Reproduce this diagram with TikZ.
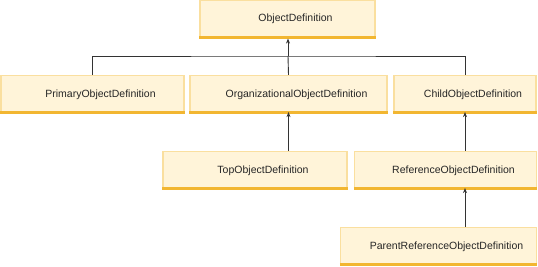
\documentclass[tikz,border=0pt]{standalone}
\usepackage{fontspec}
\setmainfont{Liberation Sans}
\usetikzlibrary{arrows.meta}
\definecolor{boxfill}{HTML}{FFF4D9}
\definecolor{boxedge}{HTML}{FADF9F}
\definecolor{boxbottom}{HTML}{F2B631}
\definecolor{linecol}{HTML}{333333}
\tikzset{
  defbox/.style={rectangle, fill=boxfill, draw=boxedge, line width=1.2pt,
    minimum height=38pt, inner sep=0pt, font=\fontsize{10.5}{12}\selectfont,
    text=black!85, execute at begin node={\hspace*{16pt}}},
  bottomedge/.style={draw=boxbottom, line width=2.8pt},
  conn/.style={draw=linecol, line width=0.9pt},
  arr/.style={conn, -{Stealth[length=5pt,width=4pt]}}
}
\begin{document}
\begin{tikzpicture}[x=1pt,y=-1pt]
\useasboundingbox (0,0) rectangle (538,267);
\node[defbox, minimum width=175pt] (obj) at (287.5,19) {ObjectDefinition};
\node[defbox, minimum width=183pt] (prim) at (92.5,94.5) {PrimaryObjectDefinition};
\node[defbox, minimum width=197pt] (org) at (288.5,94.5) {OrganizationalObjectDefinition};
\node[defbox, minimum width=142pt] (child) at (465,94.5) {ChildObjectDefinition};
\node[defbox, minimum width=184pt] (top) at (255,170.5) {TopObjectDefinition};
\node[defbox, minimum width=182pt] (ref) at (445.5,170.5) {ReferenceObjectDefinition};
\node[defbox, minimum width=196pt] (parent) at (438.5,246.5) {ParentReferenceObjectDefinition};
\foreach \n in {obj,prim,org,child,top,ref,parent}{
  \draw[bottomedge] ([yshift=1.4pt]\n.south west) -- ([yshift=1.4pt]\n.south east);
}
\coordinate (j) at (288,56);
\draw[conn] (prim.north) |- (j) -| (child.north);
\draw[conn] (j) -- (org.north);
\draw[arr] (j) -- (j |- obj.south);
\draw[arr] (top.north -| org.south) -- ([yshift=2pt]org.south);
\draw[arr] (ref.north -| child.south) -- ([yshift=2pt]child.south);
\draw[arr] (parent.north -| child.south) -- ([yshift=2pt]ref.south -| child.south);
\end{tikzpicture}
\end{document}
